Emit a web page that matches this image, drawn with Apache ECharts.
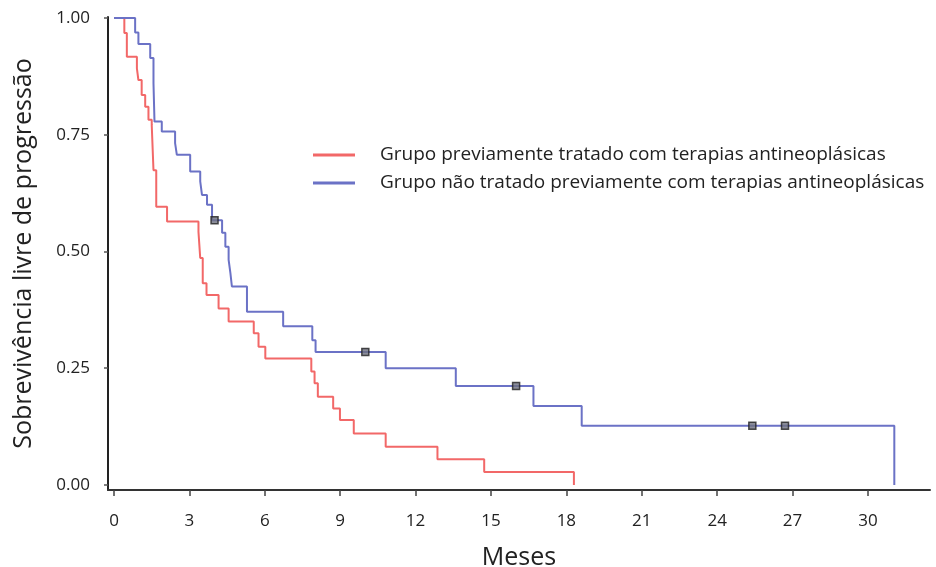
<!DOCTYPE html>
<html>
<head>
<meta charset="utf-8">
<script src="https://cdn.jsdelivr.net/npm/echarts@6/dist/echarts.min.js"></script>
<style>
html,body{margin:0;padding:0;background:#fff;}
#chart{width:936px;height:567px;}
</style>
</head>
<body>
<div id="chart"></div>
<script>
// Group previously treated (red)
const redTimes = [0, 0.41, 0.51, 0.91, 0.97, 1.10, 1.24, 1.37, 1.50, 1.57, 1.68, 2.11, 3.36, 3.43, 3.53, 3.68, 4.16, 4.56, 5.56, 5.75, 6.02, 7.85, 7.98, 8.11, 8.72, 8.99, 9.54, 10.81, 12.87, 14.73, 18.30];
const redSurv  = [1.0, 0.968, 0.917, 0.892, 0.867, 0.835, 0.81, 0.782, 0.771, 0.674, 0.596, 0.564, 0.542, 0.486, 0.432, 0.407, 0.378, 0.350, 0.325, 0.296, 0.271, 0.243, 0.218, 0.189, 0.164, 0.139, 0.11, 0.082, 0.055, 0.028, 0];
// Group not previously treated (blue)
const blueTimes = [0, 0.84, 0.97, 1.44, 1.57, 1.61, 1.90, 2.43, 2.50, 3.03, 3.43, 3.50, 3.70, 3.90, 4.30, 4.43, 4.56, 4.63, 4.69, 5.29, 6.73, 7.89, 8.02, 10.81, 13.60, 16.69, 18.61, 31.05];
const blueSurv  = [1.0, 0.969, 0.944, 0.914, 0.86, 0.778, 0.757, 0.732, 0.707, 0.671, 0.650, 0.621, 0.600, 0.567, 0.540, 0.510, 0.482, 0.454, 0.425, 0.371, 0.340, 0.310, 0.285, 0.250, 0.212, 0.169, 0.127, 0];
// Censored observations (blue group)
const censorTimes = [4.0, 10.0, 16.0, 25.4, 26.7];
const censorSurv  = [0.567, 0.285, 0.212, 0.127, 0.127];
// Ticks
const xTicks = [0, 3, 6, 9, 12, 15, 18, 21, 24, 27, 30];
const yTicks = [0, 0.25, 0.5, 0.75, 1.0];
const seriesNames = ['Grupo previamente tratado com terapias antineoplásicas', 'Grupo não tratado previamente com terapias antineoplásicas'];

const pair = (xs, ys) => xs.map((x, i) => [x, ys[i]]);
const RED = '#f26868', BLUE = '#6b72c6';
const FONT = 'Open Sans';

const chart = echarts.init(document.getElementById('chart'), null, {renderer: 'canvas'});
chart.setOption({
  animation: false,
  backgroundColor: '#fff',
  textStyle: {fontFamily: FONT},
  grid: {left: 108, right: 6, top: 17, bottom: 77, containLabel: false, outerBoundsMode: 'none'},
  legend: {
    orient: 'vertical', left: 313, top: 144, padding: 0,
    icon: 'rect', itemWidth: 42, itemHeight: 3, itemGap: 6,
    data: seriesNames,
    textStyle: {fontFamily: FONT, fontSize: 19, color: '#222', lineHeight: 22, padding: [0, 0, 0, 20]}
  },
  xAxis: {
    type: 'value', min: -0.24, max: 32.47,
    name: 'Meses', nameLocation: 'middle', nameGap: 55,
    nameTextStyle: {fontFamily: FONT, fontSize: 25, color: '#222'},
    axisLine: {show: true, onZero: false, lineStyle: {color: '#333', width: 2}},
    axisTick: {show: true, length: 6, customValues: xTicks, lineStyle: {color: '#444', width: 1.5}},
    axisLabel: {customValues: xTicks, margin: 23, fontSize: 17, color: '#222', fontFamily: FONT},
    splitLine: {show: false}
  },
  yAxis: {
    type: 'value', min: -0.0107, max: 1.002,
    name: 'Sobrevivência livre de progressão', nameLocation: 'middle', nameGap: 72, nameRotate: 90,
    nameTextStyle: {fontFamily: FONT, fontSize: 25, color: '#222'},
    axisLine: {show: true, onZero: false, lineStyle: {color: '#222', width: 2}},
    axisTick: {show: true, length: 4, customValues: yTicks, lineStyle: {color: '#555', width: 1.5}},
    axisLabel: {customValues: yTicks, margin: 18, fontSize: 17, color: '#222', fontFamily: FONT,
      formatter: v => v.toFixed(2)},
    splitLine: {show: false}
  },
  series: [
    {name: seriesNames[0], type: 'line', step: 'end', data: pair(redTimes, redSurv),
     showSymbol: false, symbol: 'none', color: RED, lineStyle: {color: RED, width: 2}, z: 2},
    {name: seriesNames[1], type: 'line', step: 'end', data: pair(blueTimes, blueSurv),
     showSymbol: false, symbol: 'none', color: BLUE, lineStyle: {color: BLUE, width: 2}, z: 3},
    {name: 'censor', type: 'scatter', data: pair(censorTimes, censorSurv), symbol: 'rect', symbolSize: 7,
     itemStyle: {color: '#6e7080', borderColor: '#222', borderWidth: 1.5}, z: 4}
  ]
});
</script>
</body>
</html>
